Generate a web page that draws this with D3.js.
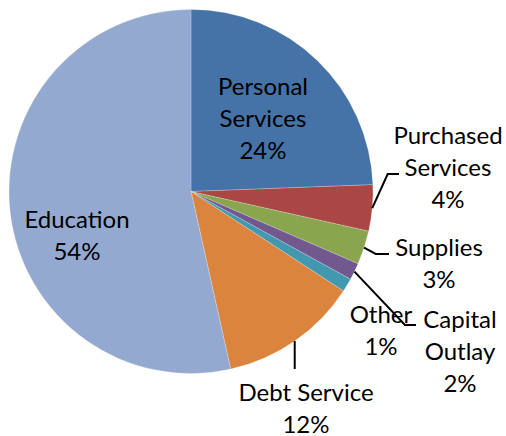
<!DOCTYPE html>
<html>
<head>
<meta charset="utf-8">
<script src="https://cdn.jsdelivr.net/npm/d3@7"></script>
<style>
  html, body { margin: 0; padding: 0; background: #fff; }
  svg { display: block; }
  text { font-family: Lato, "Open Sans", sans-serif; fill: #000; }
</style>
</head>
<body>
<svg id="chart" width="506" height="436"></svg>
<script>
// ---- data ----
const categories = ["Personal Services", "Purchased Services", "Supplies", "Capital Outlay", "Other", "Debt Service", "Education"];
const values = [24.4, 4.1, 3.0, 1.5, 1.2, 12.3, 53.5];
const labelLines = [["Personal", "Services"], ["Purchased", "Services"], ["Supplies"], ["Capital", "Outlay"], ["Other"], ["Debt Service"], ["Education"]];
const colors = ["#4572A7", "#AA4643", "#89A54E", "#71588F", "#4198AF", "#DB843D", "#93A9CF"];

// ---- layout (positions, not data) ----
const W = 506, H = 436;
const cx = 191, cy = 191.5, R = 182;
const fontSize = 24, lineStep = 32;
const labelPos = {
  "Personal Services": { x: 263, y: 95 },
  "Purchased Services": { x: 448, y: 144 },
  "Supplies": { x: 439, y: 255.5 },
  "Capital Outlay": { x: 460, y: 328 },
  "Other": { x: 381, y: 323 },
  "Debt Service": { x: 306, y: 400.5 },
  "Education": { x: 77, y: 227.5 }
};
const leaders = {
  "Purchased Services": { elbow: [387.7, 174], end: [399, 174] },
  "Supplies": { elbow: [375.7, 254], end: [389, 254] },
  "Capital Outlay": { elbow: [405, 325], end: [416, 325] },
  "Debt Service": { vertical: 369 }
};

const svg = d3.select("#chart");
const data = categories.map((c, i) => ({ name: c, value: values[i], lines: labelLines[i], color: colors[i] }));

const pie = d3.pie().sort(null).value(d => d.value);
const arcs = pie(data);
const arc = d3.arc().innerRadius(0).outerRadius(R);

const g = svg.append("g").attr("transform", `translate(${cx},${cy})`);
g.selectAll("path.slice")
  .data(arcs)
  .join("path")
  .attr("class", "slice")
  .attr("d", arc)
  .attr("fill", d => d.data.color)
  .attr("stroke", "#ffffff")
  .attr("stroke-opacity", 0.35)
  .attr("stroke-width", 0.6);

// leader lines
arcs.forEach(a => {
  const L = leaders[a.data.name];
  if (!L) return;
  const mid = (a.startAngle + a.endAngle) / 2;
  const sx = cx + R * Math.sin(mid), sy = cy - R * Math.cos(mid);
  let pts;
  if (L.vertical !== undefined) {
    pts = [[sx, sy], [sx, L.vertical]];
  } else {
    pts = [[sx, sy], L.elbow, L.end];
  }
  svg.append("path")
    .attr("d", d3.line()(pts))
    .attr("fill", "none")
    .attr("stroke", "#000")
    .attr("stroke-width", 2);
});

// labels
arcs.forEach(a => {
  const p = labelPos[a.data.name];
  const lines = a.data.lines.concat([Math.round(a.data.value) + "%"]);
  const t = svg.append("text")
    .attr("text-anchor", "middle")
    .attr("font-size", fontSize);
  lines.forEach((ln, i) => {
    t.append("tspan")
      .attr("x", p.x)
      .attr("y", p.y + i * lineStep)
      .text(ln);
  });
});
</script>
</body>
</html>
